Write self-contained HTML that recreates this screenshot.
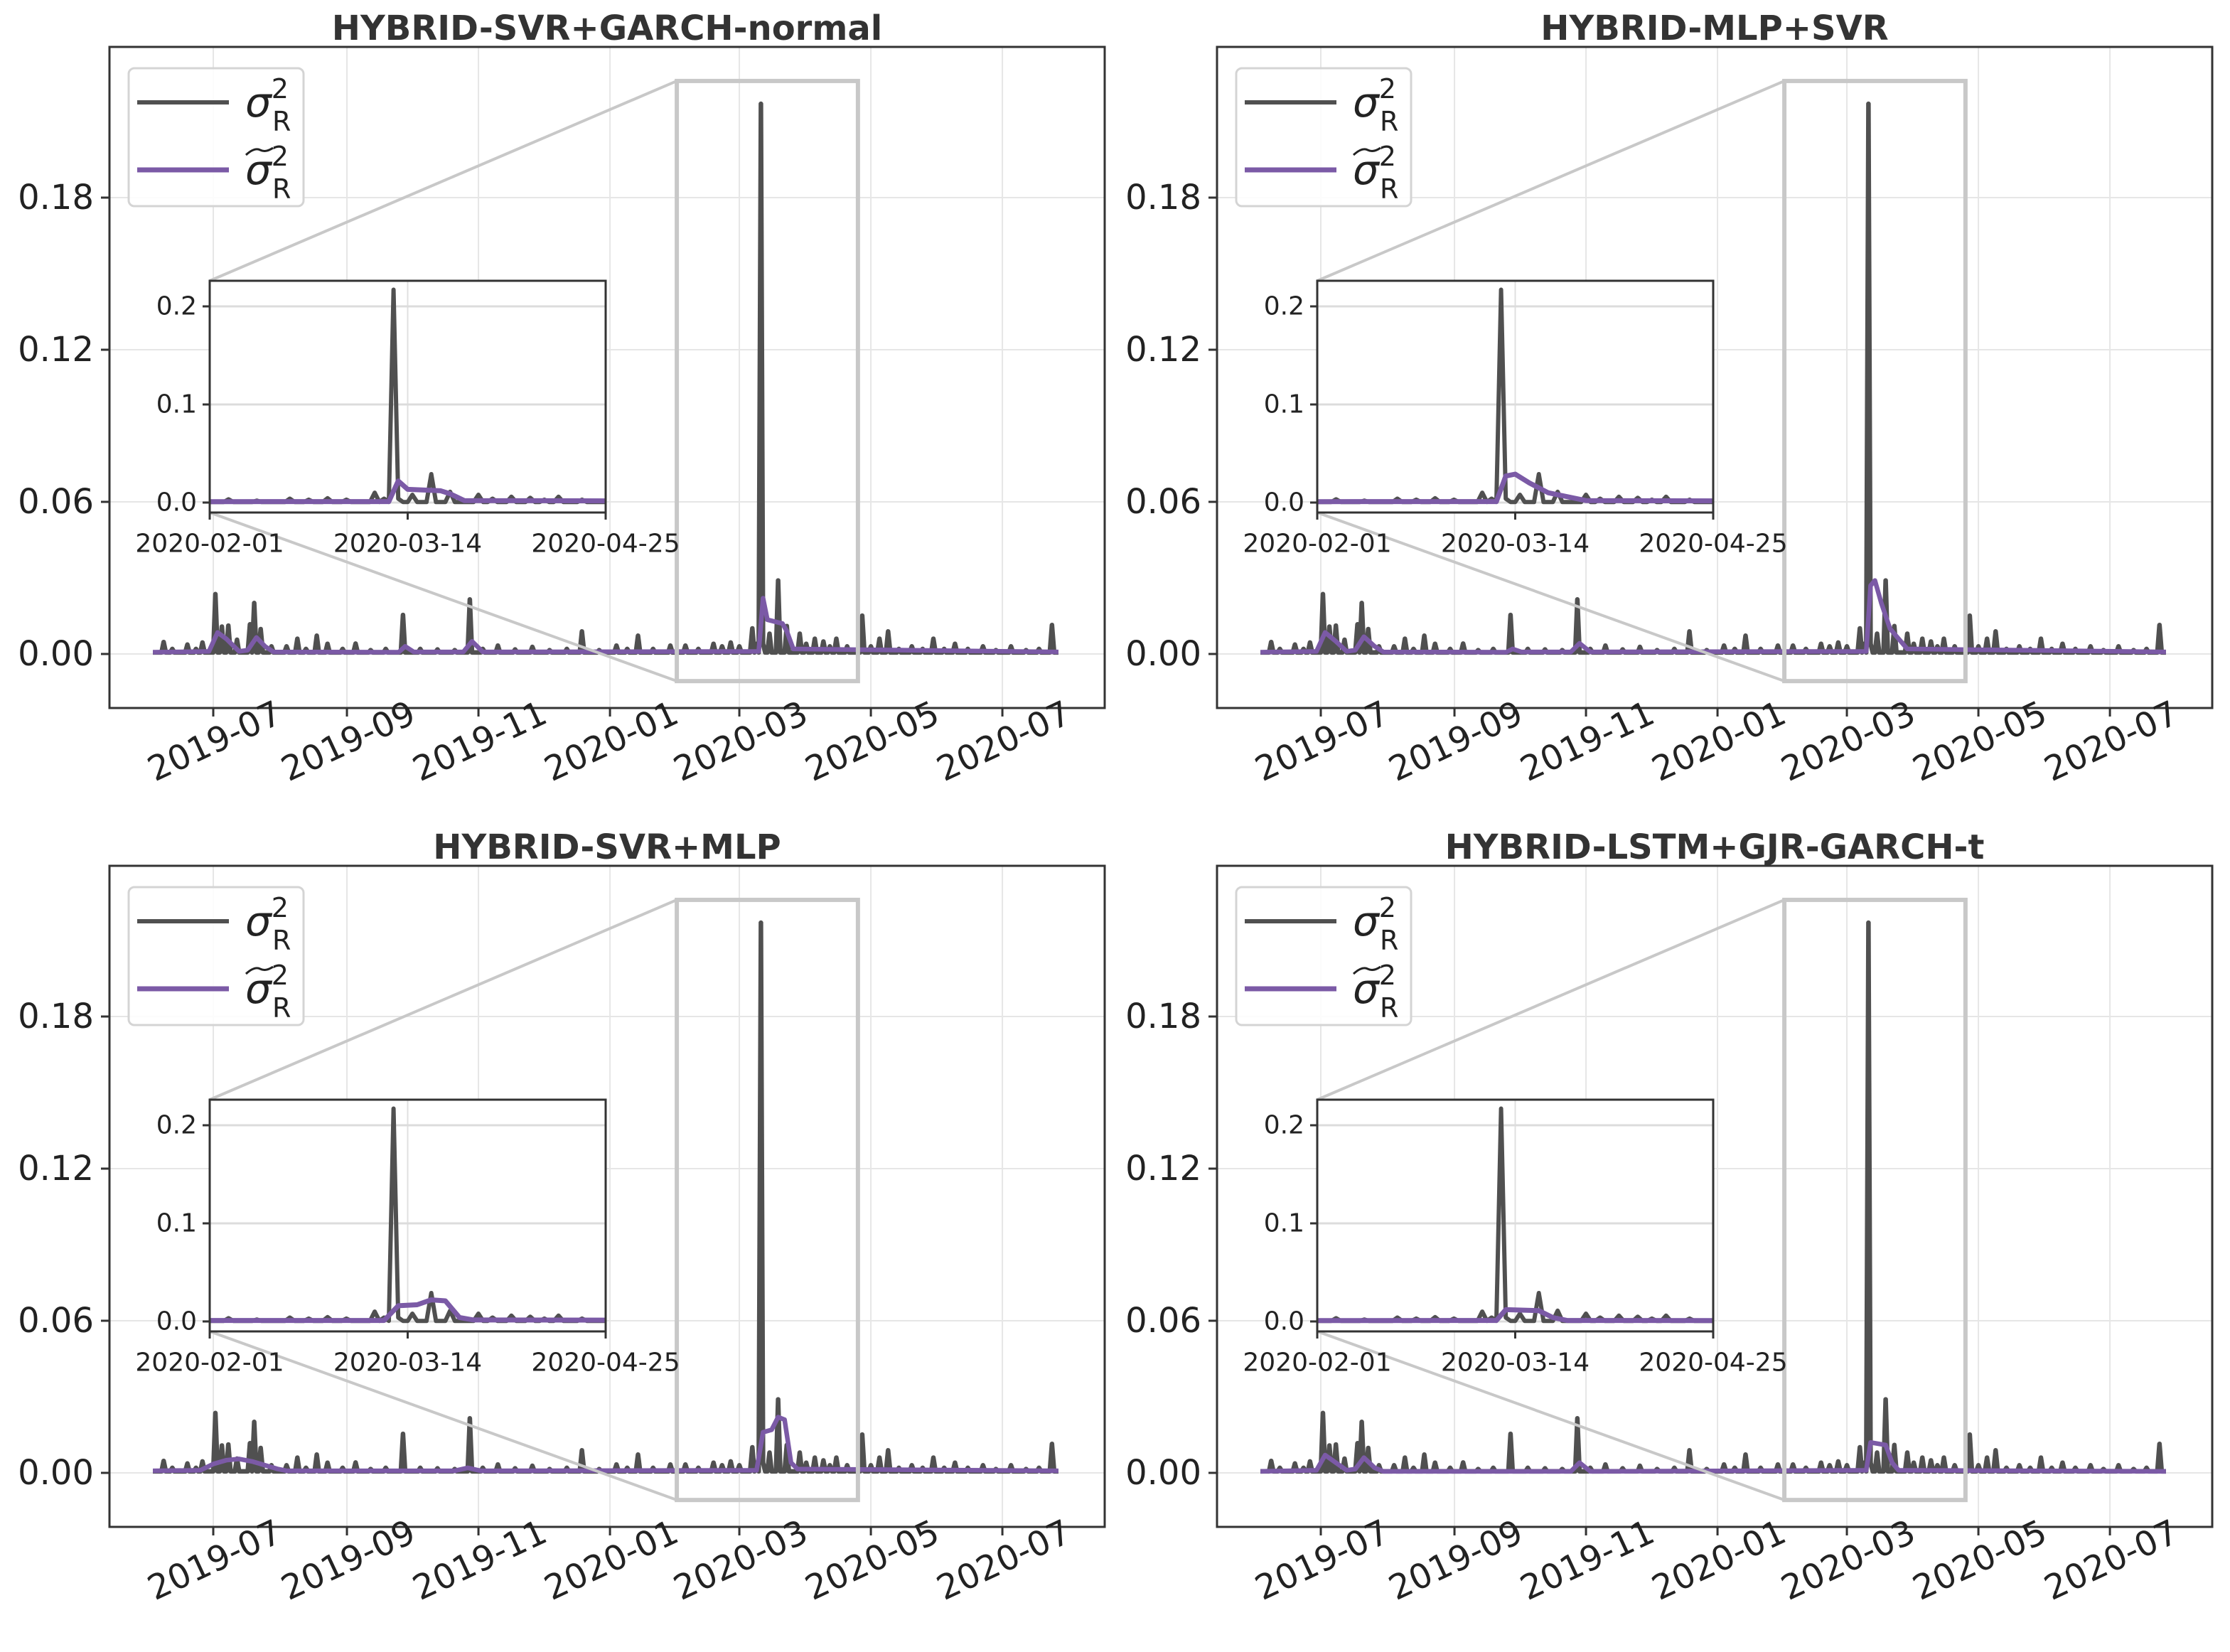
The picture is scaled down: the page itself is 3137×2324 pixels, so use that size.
<!DOCTYPE html>
<html><head><meta charset="utf-8"><style>
html,body{margin:0;padding:0;background:#fff}
svg{display:block;font-family:"DejaVu Sans","Liberation Sans",sans-serif}
</style></head><body>
<svg id="fig" xmlns="http://www.w3.org/2000/svg" width="3137" height="2324" viewBox="0 0 3137 2324"></svg>
<script>
// ---- data (day index 0 = 2019-06-03) ----
const spikeDays = [5,9,16,20,23,29,32,35,39,45,47,50,55,62,67,71,76,81,88,94,101,108,116,124,132,140,147,153,160,168,176,184,192,199,207,215,220,225,232,240,247,253,260,264,268,272,278,280,282,283,286,290,294,300,303,307,311,314,317,322,329,333,337,341,346,352,357,362,367,372,378,385,391,398,405,411,417];
const spikeVals = [0.0047,0.002,0.0037,0.002,0.0045,0.0236,0.0108,0.0112,0.0056,0.0117,0.0201,0.0098,0.003,0.003,0.006,0.002,0.0072,0.004,0.002,0.0041,0.0015,0.002,0.0154,0.002,0.0018,0.0015,0.0215,0.002,0.0033,0.0018,0.0028,0.0015,0.002,0.0089,0.0015,0.0033,0.002,0.0072,0.002,0.0033,0.0033,0.002,0.004,0.003,0.0045,0.003,0.0101,0.004,0.217,0.004,0.008,0.029,0.011,0.008,0.004,0.006,0.0049,0.003,0.006,0.003,0.0151,0.003,0.006,0.0089,0.002,0.003,0.002,0.006,0.002,0.004,0.002,0.003,0.0015,0.003,0.0015,0.002,0.0114];
const nDays = 421;
const baseVal = 0.0006;
const xTickLabels = ["2019-07","2019-09","2019-11","2020-01","2020-03","2020-05","2020-07"];
const xTickDays = [28,90,151,212,272,333,394];
const yTickVals = [0.00,0.06,0.12,0.18];
const yTickLabels = ["0.00","0.06","0.12","0.18"];
const insetYTicks = [0.0,0.1,0.2];
const insetYLabels = ["0.0","0.1","0.2"];
const insetXLabels = ["2020-02-01","2020-03-14","2020-04-25"];
const insetXDays = [243,285,327];
const titles = ["HYBRID-SVR+GARCH-normal","HYBRID-MLP+SVR","HYBRID-SVR+MLP","HYBRID-LSTM+GJR-GARCH-t"];
const pred1Days = [0,26,30,34,40,44,48,52,56,114,117,121,144,148,153,281,283,285,292,294,297,420];
const pred1Vals = [0.0007,0.001,0.0085,0.006,0.001,0.0015,0.0065,0.003,0.0008,0.0007,0.003,0.0008,0.0008,0.005,0.0008,0.001,0.022,0.0135,0.012,0.009,0.002,0.0008];
const pred2Days = [0,26,30,35,40,44,48,53,57,114,117,121,144,148,153,281,283,285,288,292,296,300,420];
const pred2Vals = [0.0007,0.001,0.0085,0.005,0.001,0.0015,0.0068,0.003,0.0008,0.0007,0.002,0.0008,0.0008,0.0042,0.0008,0.001,0.027,0.029,0.02,0.01,0.006,0.002,0.0008];
const pred3Days = [0,22,28,34,40,46,52,58,62,140,146,152,280,283,287,290,293,296,299,420];
const pred3Vals = [0.0008,0.001,0.0035,0.005,0.0055,0.0045,0.003,0.0015,0.0008,0.0008,0.002,0.0008,0.001,0.016,0.017,0.022,0.021,0.004,0.0015,0.0008];
const pred4Days = [0,26,30,35,40,44,48,53,57,144,148,153,281,283,290,293,296,420];
const pred4Vals = [0.0006,0.001,0.007,0.004,0.001,0.0015,0.006,0.002,0.0006,0.0006,0.004,0.0006,0.001,0.012,0.011,0.004,0.001,0.0006];
const predDaysAll = [pred1Days,pred2Days,pred3Days,pred4Days];
const predValsAll = [pred1Vals,pred2Vals,pred3Vals,pred4Vals];

// ---- geometry ----
const NS = "http://www.w3.org/2000/svg";
const svg = document.getElementById('fig');
const AX = {l:154, r:1554, t:66, b:996};
const pxPerDay = 3.033, x0Day = 28, x0Px = 300;
const yZeroPx = 920, pxPerUnit = 3566.7;
const IN = {l:295, r:852, t:395, b:721, d0:243, d1:327, y0:707, ppu:1380};
const offsets = [[0,0],[1558,0],[0,1152],[1558,1152]];

function el(tag, attrs, parent){const e=document.createElementNS(NS,tag);for(const k in attrs)e.setAttribute(k,attrs[k]);(parent||svg).appendChild(e);return e;}
function mainX(d){return x0Px + (d - x0Day)*pxPerDay;}
function mainY(v){return yZeroPx - v*pxPerUnit;}
function inX(d){return IN.l + (d-IN.d0)*(IN.r-IN.l)/(IN.d1-IN.d0);}
function inY(v){return IN.y0 - v*IN.ppu;}

const actual = new Array(nDays).fill(baseVal);
for(let i=0;i<spikeDays.length;i++){actual[spikeDays[i]] = spikeVals[i];}

function ptsActual(fx,fy){return actual.map((v,d)=>fx(d).toFixed(1)+','+fy(v).toFixed(1)).join(' ');}
function ptsPred(days,vals,fx,fy){return days.map((d,i)=>fx(d).toFixed(1)+','+fy(vals[i]).toFixed(1)).join(' ');}

offsets.forEach((o,pi)=>{
  const g = el('g',{transform:`translate(${o[0]},${o[1]})`});
  
  
  const cid='clip'+pi, icid='iclip'+pi;
  const defs=el('defs',{},g);
  const cp=el('clipPath',{id:cid},defs); el('rect',{x:AX.l,y:AX.t,width:AX.r-AX.l,height:AX.b-AX.t},cp);
  const icp=el('clipPath',{id:icid},defs); el('rect',{x:IN.l,y:IN.t,width:IN.r-IN.l,height:IN.b-IN.t},icp);
  xTickDays.forEach(d=>{const x=mainX(d);const l=el('line',{x1:x,x2:x,y1:AX.t,y2:AX.b,stroke:'#e6e6e6','stroke-width':2},g);});
  yTickVals.forEach(v=>{const y=mainY(v);const l=el('line',{x1:AX.l,x2:AX.r,y1:y,y2:y,stroke:'#e6e6e6','stroke-width':2},g);});
  const sa=el('polyline',{points:ptsActual(mainX,mainY),fill:'none',stroke:'#505050','stroke-width':6.5,'stroke-linejoin':'round','clip-path':`url(#${cid})`},g);
  
  const sp=el('polyline',{points:ptsPred(predDaysAll[pi],predValsAll[pi],mainX,mainY),fill:'none',stroke:'#7b5aa6','stroke-width':6.5,'stroke-linejoin':'round','clip-path':`url(#${cid})`},g);
  
  const rx1=mainX(IN.d0), rx2=mainX(IN.d1), ry1=mainY(0.226), ry2=mainY(-0.0107);
  const zr=el('rect',{x:rx1,y:ry1,width:rx2-rx1,height:ry2-ry1,fill:'none',stroke:'#c8c8c8','stroke-width':6},g);
  
  const c1=el('line',{x1:rx1,y1:ry1,x2:IN.l,y2:IN.t,stroke:'#c8c8c8','stroke-width':4},g);
  
  const c2=el('line',{x1:rx1,y1:ry2,x2:IN.l,y2:IN.b,stroke:'#c8c8c8','stroke-width':4},g);
  
  const sp1=el('rect',{x:AX.l,y:AX.t,width:AX.r-AX.l,height:AX.b-AX.t,fill:'none',stroke:'#333','stroke-width':3},g);
  
  yTickVals.forEach((v,i)=>{const y=mainY(v);
    el('line',{x1:AX.l-12,x2:AX.l,y1:y,y2:y,stroke:'#333','stroke-width':3},g);
    const t=el('text',{x:AX.l-22,y:y,'text-anchor':'end','dominant-baseline':'central','font-size':48,fill:'#222'},g);t.textContent=yTickLabels[i];
    });
  xTickDays.forEach((d,i)=>{const x=mainX(d);
    el('line',{x1:x,x2:x,y1:AX.b,y2:AX.b+12,stroke:'#333','stroke-width':3},g);
    const t=el('text',{x:x+2,y:1043,'text-anchor':'middle','dominant-baseline':'central','font-size':48,fill:'#222',transform:`rotate(-25 ${x+2} 1043)`},g);t.textContent=xTickLabels[i];
    });
  const tt=el('text',{x:(AX.l+AX.r)/2,y:56,'text-anchor':'middle','font-size':48,'font-weight':'bold',fill:'#333'},g);tt.textContent=titles[pi];
  
  const ig=el('g',{},g); 
  el('rect',{x:IN.l,y:IN.t,width:IN.r-IN.l,height:IN.b-IN.t,fill:'#fff'},ig);
  insetXDays.forEach(d=>{const x=inX(d);el('line',{x1:x,x2:x,y1:IN.t,y2:IN.b,stroke:'#e0e0e0','stroke-width':2},ig);});
  insetYTicks.forEach(v=>{const y=inY(v);el('line',{x1:IN.l,x2:IN.r,y1:y,y2:y,stroke:'#dcdcdc','stroke-width':3},ig);});
  const ia=el('polyline',{points:ptsActual(inX,inY),fill:'none',stroke:'#505050','stroke-width':6,'stroke-linejoin':'round','clip-path':`url(#${icid})`},ig);
  
  const ip=el('polyline',{points:ptsPred(predDaysAll[pi],predValsAll[pi],inX,inY),fill:'none',stroke:'#7b5aa6','stroke-width':7,'stroke-linejoin':'round','clip-path':`url(#${icid})`},ig);
  
  el('rect',{x:IN.l,y:IN.t,width:IN.r-IN.l,height:IN.b-IN.t,fill:'none',stroke:'#333','stroke-width':3},ig);
  insetYTicks.forEach((v,i)=>{const y=inY(v);
    el('line',{x1:IN.l-10,x2:IN.l,y1:y,y2:y,stroke:'#333','stroke-width':3},ig);
    const t=el('text',{x:IN.l-18,y:y,'text-anchor':'end','dominant-baseline':'central','font-size':36,fill:'#222'},ig);t.textContent=insetYLabels[i];
    });
  insetXDays.forEach((d,i)=>{const x=inX(d);
    el('line',{x1:x,x2:x,y1:IN.b,y2:IN.b+10,stroke:'#333','stroke-width':3},ig);
    const t=el('text',{x:x,y:IN.b+44,'text-anchor':'middle','dominant-baseline':'central','font-size':36,fill:'#222'},ig);t.textContent=insetXLabels[i];
    });
  const lg=el('g',{},g); 
  el('rect',{x:181,y:96,width:246,height:194,rx:8,fill:'#fff','fill-opacity':0.85,stroke:'#d4d4d4','stroke-width':3},lg);
  el('line',{x1:193,x2:322,y1:144,y2:144,stroke:'#505050','stroke-width':6},lg);
  el('line',{x1:193,x2:322,y1:239,y2:239,stroke:'#7b5aa6','stroke-width':7},lg);
  const l1=el('text',{x:345,y:164,'font-size':58,fill:'#222'},lg);
  l1.innerHTML='<tspan font-style="italic">σ</tspan><tspan dy="-26" font-size="38">2</tspan><tspan dx="-23" dy="46" font-size="38">R</tspan>';
  
  const l2=el('text',{x:345,y:259,'font-size':58,fill:'#222'},lg);
  l2.innerHTML='<tspan font-style="italic">σ</tspan><tspan dy="-26" font-size="38">2</tspan><tspan dx="-23" dy="46" font-size="38">R</tspan>';
  
  el('path',{d:'M346 218 Q358 207 366 211 Q374 215 384 208',fill:'none',stroke:'#222','stroke-width':3},lg);
});
</script>
</body></html>
